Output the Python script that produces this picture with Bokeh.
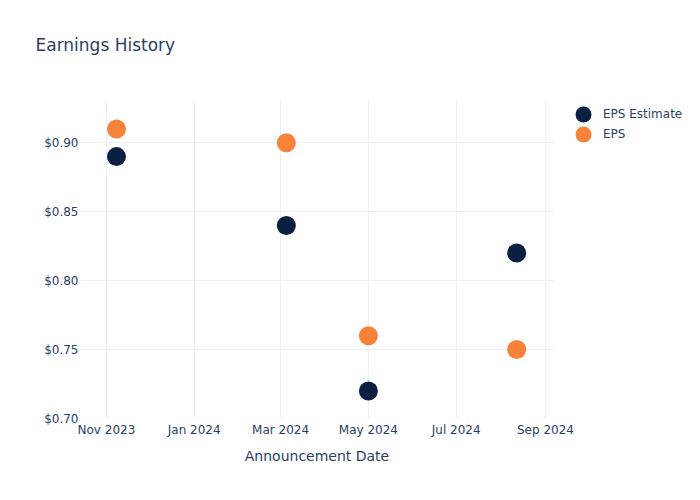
from datetime import datetime
from bokeh.plotting import figure
from bokeh.models import (ColumnDataSource, NumeralTickFormatter, DatetimeTickFormatter,
                          FixedTicker, Range1d, Legend, LegendItem)
from bokeh.embed import file_html
from bokeh.resources import INLINE

dates = ["2023-11-08", "2024-03-05", "2024-05-01", "2024-08-12"]
eps_estimate = [0.89, 0.84, 0.72, 0.82]
eps_actual = [0.91, 0.90, 0.76, 0.75]
tick_months = ["2023-11-01", "2024-01-01", "2024-03-01", "2024-05-01", "2024-07-01", "2024-09-01"]
series_names = ["EPS Estimate", "EPS"]
series_colors = ["#0b1f42", "#f7823a"]

x = [datetime.strptime(d, "%Y-%m-%d") for d in dates]
src = ColumnDataSource(dict(x=x, est=eps_estimate, eps=eps_actual))

FONT = "DejaVu Sans"
TXT = "#2a3f5f"

p = figure(frame_width=473, frame_height=318, output_backend="svg", toolbar_location=None,
           x_axis_type="datetime",
           x_range=Range1d(datetime(2023, 10, 14), datetime(2024, 9, 6, 14)),
           y_range=Range1d(0.70, 0.9307),
           min_border_left=80, min_border_right=147, min_border_top=100, min_border_bottom=82)

p.outline_line_color = None
p.background_fill_color = "white"
p.border_fill_color = "white"

renderers = []
for col, c in zip(["est", "eps"], series_colors):
    renderers.append(p.ellipse("x", col, source=src, width=19, height=19,
                               width_units="screen", height_units="screen",
                               fill_color=c, line_color=None))

p.title.text = "Earnings History\n "
p.title.text_font = FONT
p.title.text_font_size = "17px"
p.title.text_font_style = "normal"
p.title.text_color = TXT
p.title.standoff = 52
p.title.offset = -45

ticks_ms = [datetime.strptime(t, "%Y-%m-%d").timestamp() * 1000 for t in tick_months]
p.xaxis.ticker = FixedTicker(ticks=ticks_ms)
p.xaxis.formatter = DatetimeTickFormatter(months="%b %Y", days="%b %Y", years="%b %Y")
p.yaxis.ticker = FixedTicker(ticks=[0.70, 0.75, 0.80, 0.85, 0.90])
p.yaxis.formatter = NumeralTickFormatter(format="$0.00")

for ax in (p.xaxis, p.yaxis):
    ax.axis_line_color = None
    ax.major_tick_line_color = None
    ax.minor_tick_line_color = None
    ax.major_label_text_font = FONT
    ax.major_label_text_font_size = "12px"
    ax.major_label_text_color = TXT
p.yaxis.major_label_standoff = -4
p.xaxis.major_label_standoff = -2

p.xaxis.axis_label = "Announcement Date"
p.xaxis.axis_label_text_font = FONT
p.xaxis.axis_label_text_font_size = "14px"
p.xaxis.axis_label_text_font_style = "normal"
p.xaxis.axis_label_text_color = TXT
p.xaxis.axis_label_standoff = 8

p.grid.grid_line_color = "#ebf0f8"
p.grid.grid_line_width = 1

legend = Legend(items=[LegendItem(label=n, renderers=[r]) for n, r in zip(series_names, renderers)],
                location=(20, 274), border_line_color=None, background_fill_alpha=0,
                label_text_font=FONT, label_text_font_size="12px", label_text_color=TXT,
                glyph_width=20, glyph_height=20, spacing=0, padding=0, margin=0,
                label_standoff=10)
p.add_layout(legend, "right")

open("out.html", "w").write(file_html(p, INLINE))
